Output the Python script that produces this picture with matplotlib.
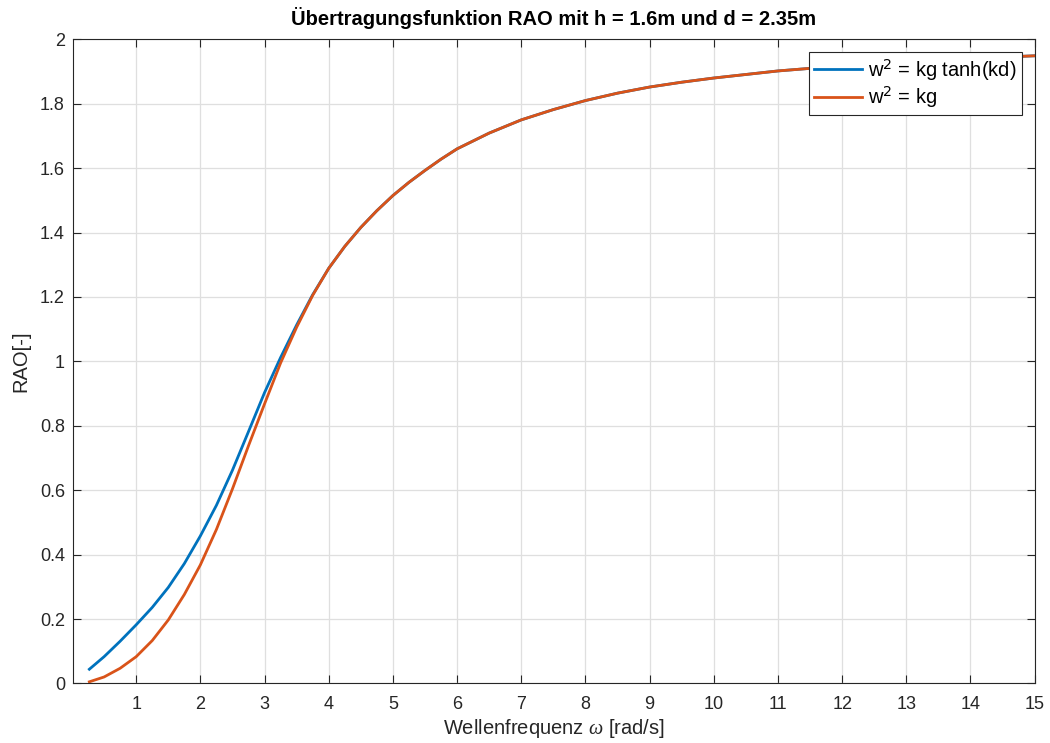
import numpy as np
import matplotlib.pyplot as plt
from matplotlib.ticker import FormatStrFormatter

plt.rcParams['font.family'] = ['Liberation Sans', 'DejaVu Sans']
plt.rcParams['mathtext.fontset'] = 'custom'
plt.rcParams['mathtext.it'] = 'Liberation Serif:italic'

# wave frequency [rad/s]
omega = [0.27, 0.5, 0.75, 1.0, 1.25, 1.5, 1.75, 2.0, 2.25, 2.5, 2.75, 3.0,
         3.25, 3.5, 3.75, 4.0, 4.25, 4.5, 4.75, 5.0, 5.25, 5.5, 5.75, 6.0,
         6.5, 7.0, 7.5, 8.0, 8.5, 9.0, 9.5, 10.0, 11.0, 12.0, 13.0, 14.0, 15.0]

# RAO with finite depth dispersion  w^2 = g k tanh(k d)
rao_tanh = [0.044, 0.083, 0.131, 0.182, 0.236, 0.298, 0.372, 0.458, 0.553,
            0.662, 0.782, 0.903, 1.012, 1.113, 1.207, 1.289, 1.357, 1.416,
            1.468, 1.515, 1.556, 1.593, 1.628, 1.660, 1.709, 1.750, 1.782,
            1.810, 1.833, 1.852, 1.867, 1.880, 1.902, 1.918, 1.931, 1.941,
            1.949]

# RAO with deep water dispersion  w^2 = g k
rao_deep = [0.005, 0.020, 0.047, 0.083, 0.133, 0.197, 0.276, 0.368, 0.478,
            0.604, 0.738, 0.868, 0.995, 1.106, 1.205, 1.289, 1.357, 1.416,
            1.468, 1.515, 1.556, 1.593, 1.628, 1.660, 1.709, 1.750, 1.782,
            1.810, 1.833, 1.852, 1.867, 1.880, 1.902, 1.918, 1.931, 1.941,
            1.949]

xticks = list(range(1, 16))
yticks = [0, 0.2, 0.4, 0.6, 0.8, 1.0, 1.2, 1.4, 1.6, 1.8, 2.0]

fig = plt.figure(figsize=(10.5, 7.43), dpi=100)
ax = fig.add_axes([0.0698, 0.0802, 0.9156, 0.8668])

ax.plot(omega, rao_tanh, color='#0072BD', linewidth=2, label=r'w$^2$ = kg tanh(kd)')
ax.plot(omega, rao_deep, color='#D95319', linewidth=2, label=r'w$^2$ = kg')

ax.set_xlim(0.02, 15)
ax.set_ylim(0, 2)
ax.set_xticks(xticks)
ax.set_yticks(yticks)
ax.yaxis.set_major_formatter(FormatStrFormatter('%g'))
ax.tick_params(direction='in', length=6, width=0.8, colors='#262626',
               labelsize=13, top=True, right=True)
ax.tick_params(axis='x', pad=9)
ax.tick_params(axis='y', pad=6)
for s in ax.spines.values():
    s.set_color('#262626')
    s.set_linewidth(0.8)
ax.grid(True, color='#dfdfdf', linewidth=0.9)
ax.set_axisbelow(True)

ax.set_title('Übertragungsfunktion RAO mit h = 1.6m und d = 2.35m',
             fontsize=14.5, fontweight='bold', pad=10)
ax.set_xlabel(r'Wellenfrequenz $\omega$ [rad/s]', fontsize=14.5, color='#262626', labelpad=3)
ax.set_ylabel('RAO[-]', fontsize=14.5, color='#262626', labelpad=7)

leg = ax.legend(loc='upper right', fontsize=14.5, fancybox=False, framealpha=1,
                edgecolor='#262626', handlelength=2.4, borderpad=0.25,
                labelspacing=0.1, handletextpad=0.3, borderaxespad=0.65)
leg.get_frame().set_linewidth(0.8)

fig.savefig('out.png', dpi=100)
